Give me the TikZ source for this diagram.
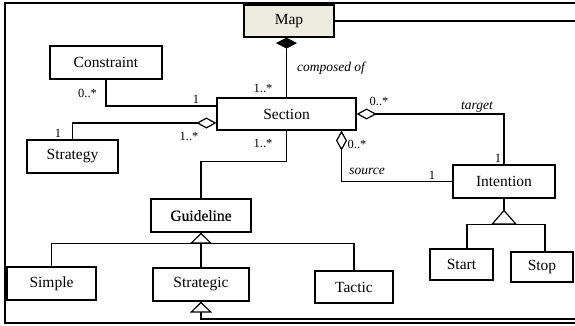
\documentclass[tikz,border=0pt]{standalone}
\usepackage{fontspec}
\setmainfont{Liberation Serif}
\newfontfamily\heavyfont[FakeBold=0.5]{Liberation Serif}
\usetikzlibrary{arrows.meta,calc}
\definecolor{mapfill}{RGB}{236,236,224}

\begin{document}
\begin{tikzpicture}[x=1pt,y=-1pt,
  cls/.style={draw, line width=1.2pt, minimum height=33pt, inner sep=0pt,
              font=\fontsize{15.5}{18}\selectfont},
  mult/.style={font=\fontsize{12.5}{14}\selectfont, inner sep=0pt},
  role/.style={font=\fontsize{13.5}{15}\selectfont\itshape, inner sep=0pt},
  link/.style={line width=1.2pt},
  agg/.style={link, -{Diamond[fill=white,length=20pt,width=11pt]}},
  comp/.style={link, -{Diamond[fill=black,length=11pt,width=21pt]}},
  gen/.style={link, -{Triangle[fill=white,length=11pt,width=22pt]}},
  biggen/.style={link, -{Triangle[fill=white,length=15pt,width=26pt]}},
  frame/.style={line width=2.5pt, line join=miter}]

\useasboundingbox (0,0) rectangle (575,326);

% outer frame, open on the right
\coordinate (ftr) at (575,3);
\coordinate (ftl) at (5,3);
\coordinate (fbl) at (5,323);
\coordinate (fbr) at (575,323);
\draw[frame] (ftr) -- (ftl) -- (fbl) -- (fbr);

% classes
\node[cls, fill=mapfill, minimum width=90pt, minimum height=32pt] (Map) at (289,21) {Map};
\node[cls, minimum width=112pt] (Constraint) at (106,62.5) {Constraint};
\node[cls, minimum width=139pt, minimum height=32pt] (Section) at (286.5,114) {Section};
\node[cls, minimum width=91pt] (Strategy) at (72.5,156.5) {Strategy};
\node[cls, minimum width=100pt, font=\fontsize{15.5}{18}\heavyfont] (Guideline) at (201,215.5) {Guideline};
\node[cls, minimum width=89pt] (Simple) at (51.5,283.5) {Simple};
\node[cls, minimum width=96pt] (Strategic) at (201,284.5) {Strategic};
\node[cls, minimum width=78pt, minimum height=32pt] (Tactic) at (354,287) {Tactic};
\node[cls, minimum width=102pt] (Intention) at (504,181.5) {Intention};
\node[cls, minimum width=63pt, minimum height=31pt] (Start) at (461.5,264.5) {Start};
\node[cls, minimum width=62pt, minimum height=30pt] (Stop) at (542,267) {Stop};

% Map links
\coordinate (mapr) at (575,21);
\draw[link] (Map.east) -- (mapr);
\draw[comp] (Section.north) -- (Section.north |- Map.south);

% Constraint
\draw[link] (Constraint.south) |- ($(Section.west)+(0,-8)$);
% Strategy
\draw[agg] (Strategy.north) |- ($(Section.west)+(0,9)$);
% Guideline
\draw[link] (Section.south) -- ++(0,31) -| (Guideline.north);
% target / source
\draw[agg] (Intention.north) |- (Section.east);
\draw[agg] (Intention.west) -| ($(Section.south)+(55,0)$);

% Guideline specialisations
\coordinate (gbar) at ($(Guideline.south)+(0,11)$);
\draw[gen] (Strategic.north) -- (Guideline.south);
\draw[link] (Simple.north) |- (gbar) -| (Tactic.north);
\coordinate (sself) at (575,319);
\draw[gen] (sself) -| (Strategic.south);

% Intention specialisations
\coordinate (itip) at ($(Intention.south)+(0,11)$);
\coordinate (ibar) at ($(Intention.south)+(0,26)$);
\draw[link] (Intention.south) -- (itip);
\draw[biggen] (ibar) -- (itip);
\draw[link] ($(Start.north)+(5.5,0)$) |- (ibar) -| ($(Stop.north)+(3,0)$);

% multiplicities and roles
\node[mult] at (87.5,93) {0..*};
\node[mult] at (196,99) {1};
\node[mult] at (58,133) {1};
\node[mult] at (189,136) {1..*};
\node[mult] at (263,88) {1..*};
\node[mult] at (263,143) {1..*};
\node[role] at (331,68) {composed of};
\node[mult] at (379,101) {0..*};
\node[role] at (477,107) {target};
\node[mult] at (498,158) {1};
\node[mult] at (357,144) {0..*};
\node[role] at (367,171) {source};
\node[mult] at (432,175) {1};

\end{tikzpicture}
\end{document}
